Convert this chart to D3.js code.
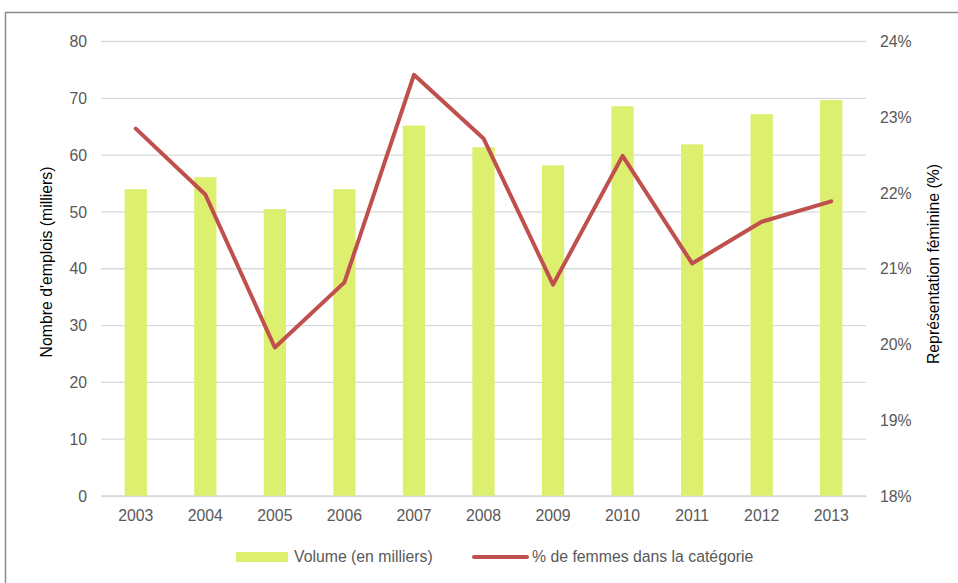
<!DOCTYPE html>
<html><head><meta charset="utf-8">
<script src="https://cdn.jsdelivr.net/npm/d3@7"></script>
<style>body{margin:0;background:#fff;}svg{display:block;font-family:"Liberation Sans",Arial,sans-serif;}</style>
</head><body><svg id="c" width="958" height="583"></svg>
<script>
const years = ["2003","2004","2005","2006","2007","2008","2009","2010","2011","2012","2013"];
const volume = [54.0, 56.1, 50.5, 54.0, 65.2, 61.4, 58.2, 68.6, 61.9, 67.2, 69.7];
const pctFemmes = [22.85, 21.98, 19.96, 20.82, 23.56, 22.72, 20.79, 22.49, 21.07, 21.62, 21.89];
const leftTicks = [0,10,20,30,40,50,60,70,80];
const rightTicks = [18,19,20,21,22,23,24];
const seriesNames = ["Volume (en milliers)", "% de femmes dans la catégorie"];
const axisTitles = ["Nombre d'emplois (milliers)", "Représentation féminine (%)"];

const svg = d3.select("#c");
const L = 101, R = 866, T = 41.5, B = 496;
const barColor = "#dcef6e", lineColor = "#c0504d", gridColor = "#d9d9d9", textColor = "#595959";
const fs = "15.8px";

svg.append("rect").attr("x",5.5).attr("y",12.5).attr("width",1000).attr("height",1000)
  .attr("fill","none").attr("stroke","#8c8c8c").attr("stroke-width",1.5);

const x = d3.scaleBand().domain(years).range([L,R]).paddingInner(0.68).paddingOuter(0.34);
const yL = d3.scaleLinear().domain([0,80]).range([B,T]);
const yR = d3.scaleLinear().domain([18,24]).range([B,T]);

// gridlines
svg.append("g").selectAll("line").data(leftTicks).join("line")
  .attr("x1",L).attr("x2",R).attr("y1",d=>yL(d)).attr("y2",d=>yL(d))
  .attr("stroke",gridColor).attr("stroke-width",1.3);

// left axis labels
const axL = svg.append("g").attr("transform",`translate(${L},0)`)
  .call(d3.axisLeft(yL).tickValues(leftTicks).tickSize(0).tickPadding(14));
axL.select(".domain").remove();
axL.selectAll("text").attr("fill",textColor).style("font-size",fs).style("font-family","Liberation Sans, Arial");

const axR = svg.append("g").attr("transform",`translate(${R},0)`)
  .call(d3.axisRight(yR).tickValues(rightTicks).tickSize(0).tickPadding(14).tickFormat(d=>d+"%"));
axR.select(".domain").remove();
axR.selectAll("text").attr("fill",textColor).style("font-size",fs).style("font-family","Liberation Sans, Arial");

// bars
svg.append("g").selectAll("rect").data(years).join("rect")
  .attr("x",d=>x(d)).attr("width",x.bandwidth())
  .attr("y",(d,i)=>yL(volume[i])).attr("height",(d,i)=>B-yL(volume[i]))
  .attr("fill",barColor);

// x axis
const axX = svg.append("g").attr("transform",`translate(0,${B})`)
  .call(d3.axisBottom(x).tickSize(0).tickPadding(14));
axX.select(".domain").attr("stroke",gridColor).attr("stroke-width",1.3);
axX.selectAll("text").attr("fill",textColor).style("font-size",fs).style("font-family","Liberation Sans, Arial");

// line
const line = d3.line().x((d,i)=>x(years[i])+x.bandwidth()/2).y(d=>yR(d));
svg.append("path").datum(pctFemmes).attr("d",line).attr("fill","none")
  .attr("stroke",lineColor).attr("stroke-width",4).attr("stroke-linejoin","round").attr("stroke-linecap","round");

// axis titles
svg.append("text").attr("transform","translate(52,262) rotate(-90)").attr("text-anchor","middle")
  .style("font-size",fs).attr("fill","#000").text(axisTitles[0]);
svg.append("text").attr("transform","translate(939,264) rotate(-90)").attr("text-anchor","middle")
  .style("font-size",fs).attr("fill","#000").text(axisTitles[1]);

// legend
svg.append("rect").attr("x",236).attr("y",552).attr("width",52).attr("height",10).attr("fill",barColor);
svg.append("text").attr("x",294).attr("y",562).style("font-size",fs).attr("fill",textColor).text(seriesNames[0]);
svg.append("line").attr("x1",474).attr("x2",527).attr("y1",557).attr("y2",557)
  .attr("stroke",lineColor).attr("stroke-width",4).attr("stroke-linecap","round");
svg.append("text").attr("x",532).attr("y",562).style("font-size",fs).attr("fill",textColor).text(seriesNames[1]);
</script></body></html>
